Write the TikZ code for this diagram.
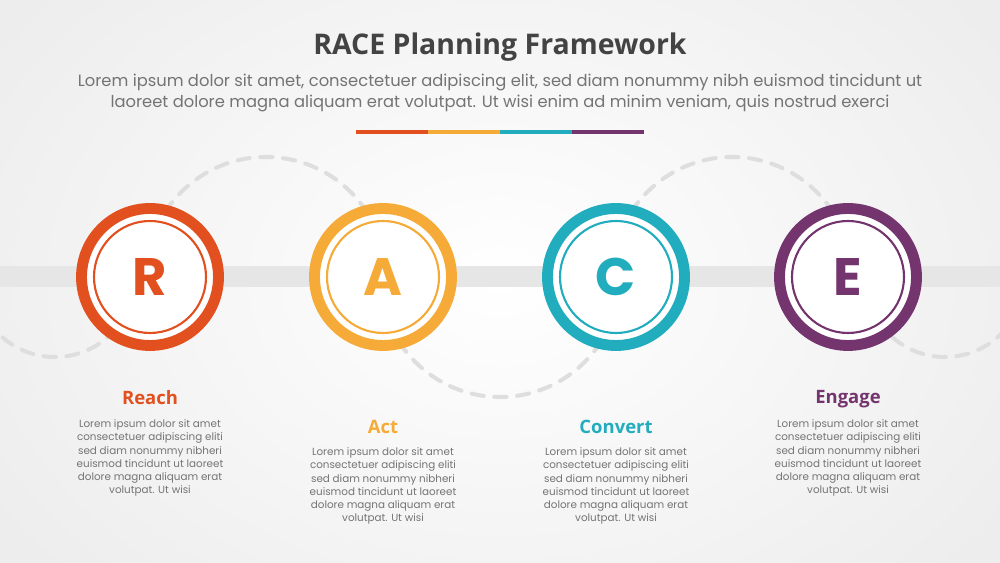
\documentclass[tikz,border=0pt]{standalone}
\usepackage{fontspec}
\setmainfont{Poppins}
\newfontfamily\headfont{Open Sans}
\definecolor{racered}{HTML}{E1501E}
\definecolor{raceorange}{HTML}{F6AA38}
\definecolor{raceteal}{HTML}{22ADBE}
\definecolor{racepurple}{HTML}{74356F}
\definecolor{titlegray}{HTML}{434343}
\definecolor{textgray}{HTML}{747474}
\definecolor{bandgray}{HTML}{E6E6E6}
\definecolor{dashgray}{HTML}{DEDEDE}
\begin{document}
\begin{tikzpicture}[x=0.02cm,y=0.02cm,
        ring/.style={circle,fill=white,line width=6.2pt,minimum size=2.74cm,inner sep=0pt,
            font=\bfseries\fontsize{30}{30}\selectfont},
        inring/.style={line width=1.2pt},
        loop/.style={dashgray,line width=2.3pt,dash pattern=on 7pt off 6pt,line cap=round},
        stage/.style={font=\headfont\bfseries\fontsize{10.5}{12}\selectfont},
        blurb/.style={textgray,align=center,inner sep=0pt,font=\fontsize{5.9}{7.5}\selectfont}]
            \useasboundingbox (0,0) rectangle (1000,563);
            \clip (0,0) rectangle (1000,563);
            \shade[inner color=white,outer color=black!7] (-100,-150) rectangle (1100,713);
            % band behind the circles
            \fill[bandgray] (0,276) rectangle (1000,297);
            % dashed loops
            \draw[loop] (-25,286) arc[start angle=180,end angle=360,radius=80];
            \draw[loop] (146,286) arc[start angle=180,end angle=0,radius=120];
            \draw[loop] (380,286) arc[start angle=180,end angle=360,radius=120];
            \draw[loop] (612,286) arc[start angle=180,end angle=0,radius=120];
            \draw[loop] (865,286) arc[start angle=180,end angle=360,radius=80];
            % title
            \node[titlegray,font=\headfont\bfseries\fontsize{16.2}{19}\selectfont] (title) at (500,516)
                {RACE Planning Framework};
            \node[textgray,align=center,font=\fontsize{9.3}{11.4}\selectfont] (sub) at (500,470)
                {Lorem ipsum dolor sit amet, consectetuer adipiscing elit, sed diam nonummy nibh euismod tincidunt ut\\
                 laoreet dolore magna aliquam erat volutpat. Ut wisi enim ad minim veniam, quis nostrud exerci};
            \draw[racered,line width=2pt]    (356,431)--(428,431);
            \draw[raceorange,line width=2pt] (428,431)--(500,431);
            \draw[raceteal,line width=2pt]   (500,431)--(572,431);
            \draw[racepurple,line width=2pt] (572,431)--(644,431);
            % letters
            \node[ring,draw=racered,text=racered]       (r) at (150,286) {R};
            \node[ring,draw=raceorange,text=raceorange] (a) at (383,286) {A};
            \node[ring,draw=raceteal,text=raceteal]     (c) at (616,286) {C};
            \node[ring,draw=racepurple,text=racepurple] (e) at (848,286) {E};
            \draw[inring,racered]    (r.center) circle (56);
            \draw[inring,raceorange] (a.center) circle (56);
            \draw[inring,raceteal]   (c.center) circle (56);
            \draw[inring,racepurple] (e.center) circle (56);
            % stages
            \node[stage,racered]    (reach)   at (150,165) {Reach};
            \node[stage,raceorange] (act)     at (383,136) {Act};
            \node[stage,raceteal]   (convert) at (616,136) {Convert};
            \node[stage,racepurple] (engage)  at (848,164) {Engage};
            \node[blurb] (reachtxt) at (150,105)
                {Lorem ipsum dolor sit amet\\consectetuer adipiscing eliti\\sed diam nonummy nibheri\\
                 euismod tincidunt ut laoreet\\dolore magna aliquam erat\\volutpat. Ut wisi};
            \node[blurb] (acttxt) at (383,77)
                {Lorem ipsum dolor sit amet\\consectetuer adipiscing eliti\\sed diam nonummy nibheri\\
                 euismod tincidunt ut laoreet\\dolore magna aliquam erat\\volutpat. Ut wisi};
            \node[blurb] (converttxt) at (616,77)
                {Lorem ipsum dolor sit amet\\consectetuer adipiscing eliti\\sed diam nonummy nibheri\\
                 euismod tincidunt ut laoreet\\dolore magna aliquam erat\\volutpat. Ut wisi};
            \node[blurb] (engagetxt) at (848,105)
                {Lorem ipsum dolor sit amet\\consectetuer adipiscing eliti\\sed diam nonummy nibheri\\
                 euismod tincidunt ut laoreet\\dolore magna aliquam erat\\volutpat. Ut wisi};
        \end{tikzpicture}
\end{document}
